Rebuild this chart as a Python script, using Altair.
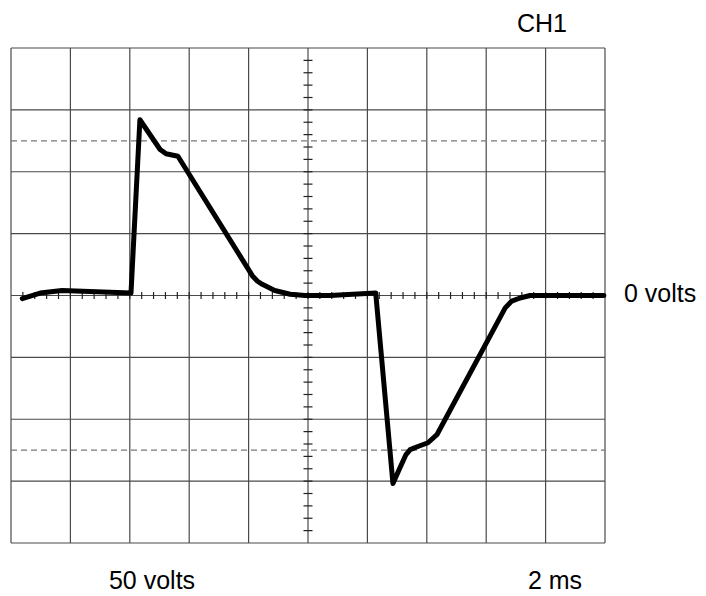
import altair as alt
import pandas as pd

# Oscilloscope trace, in screen divisions (x: 0..10, y: -4..4)
trace_x = [0.19, 0.49, 0.86, 2.02, 2.17, 2.51, 2.61, 2.71, 2.81, 4.07, 4.15, 4.23, 4.44,
           4.70, 4.95, 5.37, 6.14, 6.43, 6.55, 6.65, 6.72, 6.85, 7.02, 7.17, 8.32,
           8.43, 8.57, 8.74, 9.98]
trace_y = [-0.05, 0.04, 0.08, 0.04, 2.84, 2.36, 2.29, 2.27, 2.25, 0.31, 0.23, 0.18, 0.08,
           0.02, 0.00, 0.00, 0.04, -3.04, -2.78, -2.57, -2.49, -2.44, -2.38, -2.25, -0.20,
           -0.09, -0.04, 0.00, 0.00]

grid_x = list(range(0, 11))
grid_y = list(range(-4, 5))
dashed_y = [2.5, -2.5]
minor_x = [round(0.2 * k, 2) for k in range(1, 50)]
minor_y = [round(-4 + 0.2 * k, 2) for k in range(1, 40)]

labels = ["CH1", "0 volts", "50 volts", "2 ms"]

W, H = 594, 495
FONT = "Liberation Sans"

xs = alt.Scale(domain=[0, 10], nice=False, zero=False)
ys = alt.Scale(domain=[-4, 4], nice=False, zero=False)

grid_color = "#4a4a4a"

vgrid = alt.Chart(pd.DataFrame({"x": grid_x, "y0": -4, "y1": 4})).mark_rule(
    color=grid_color, strokeWidth=1.2
).encode(x=alt.X("x:Q", scale=xs, axis=None), y=alt.Y("y0:Q", scale=ys, axis=None), y2="y1:Q")

hgrid = alt.Chart(pd.DataFrame({"y": grid_y, "x0": 0, "x1": 10})).mark_rule(
    color=grid_color, strokeWidth=1.2
).encode(y=alt.Y("y:Q", scale=ys, axis=None), x=alt.X("x0:Q", scale=xs, axis=None), x2="x1:Q")

dgrid = alt.Chart(pd.DataFrame({"y": dashed_y, "x0": 0, "x1": 10})).mark_rule(
    color="#777777", strokeWidth=1.3, strokeDash=[6, 4]
).encode(y=alt.Y("y:Q", scale=ys, axis=None), x=alt.X("x0:Q", scale=xs, axis=None), x2="x1:Q")

hticks = alt.Chart(pd.DataFrame({"x": minor_x})).mark_rule(
    color="#222222", strokeWidth=1.2
).encode(
    x=alt.X("x:Q", scale=xs, axis=None),
    y=alt.value(H / 2 - 3.5),
    y2=alt.value(H / 2 + 3.5),
)

vticks = alt.Chart(pd.DataFrame({"y": minor_y})).mark_rule(
    color="#222222", strokeWidth=1.2
).encode(
    y=alt.Y("y:Q", scale=ys, axis=None),
    x=alt.value(W / 2 - 4.5),
    x2=alt.value(W / 2 + 4.5),
)

trace = alt.Chart(pd.DataFrame({"x": trace_x, "y": trace_y, "i": range(len(trace_x))})).mark_line(
    color="black", strokeWidth=5, strokeCap="round", strokeJoin="round"
).encode(
    x=alt.X("x:Q", scale=xs, axis=None),
    y=alt.Y("y:Q", scale=ys, axis=None),
    order="i:Q",
)

def label(text, px, py, align):
    return alt.Chart(pd.DataFrame({"t": [text]})).mark_text(
        font=FONT, fontSize=25, align=align, baseline="alphabetic", color="#000000"
    ).encode(text="t:N", x=alt.value(px), y=alt.value(py))

t_ch1 = label(labels[0], 531, -16, "center")
t_zero = label(labels[1], 613, 254, "left")
t_volts = label(labels[2], 141, 541, "center")
t_ms = label(labels[3], 544, 541, "center")

chart = alt.layer(
    vgrid, hgrid, dgrid, hticks, vticks, trace, t_ch1, t_zero, t_volts, t_ms
).properties(
    width=W,
    height=H,
    autosize=alt.AutoSizeParams(type="none"),
    padding={"left": 3, "top": 40, "right": 93, "bottom": 52},
    background="white",
).configure_view(stroke=None)

chart.save("out.html", embed_options={"renderer": "svg", "actions": False})
